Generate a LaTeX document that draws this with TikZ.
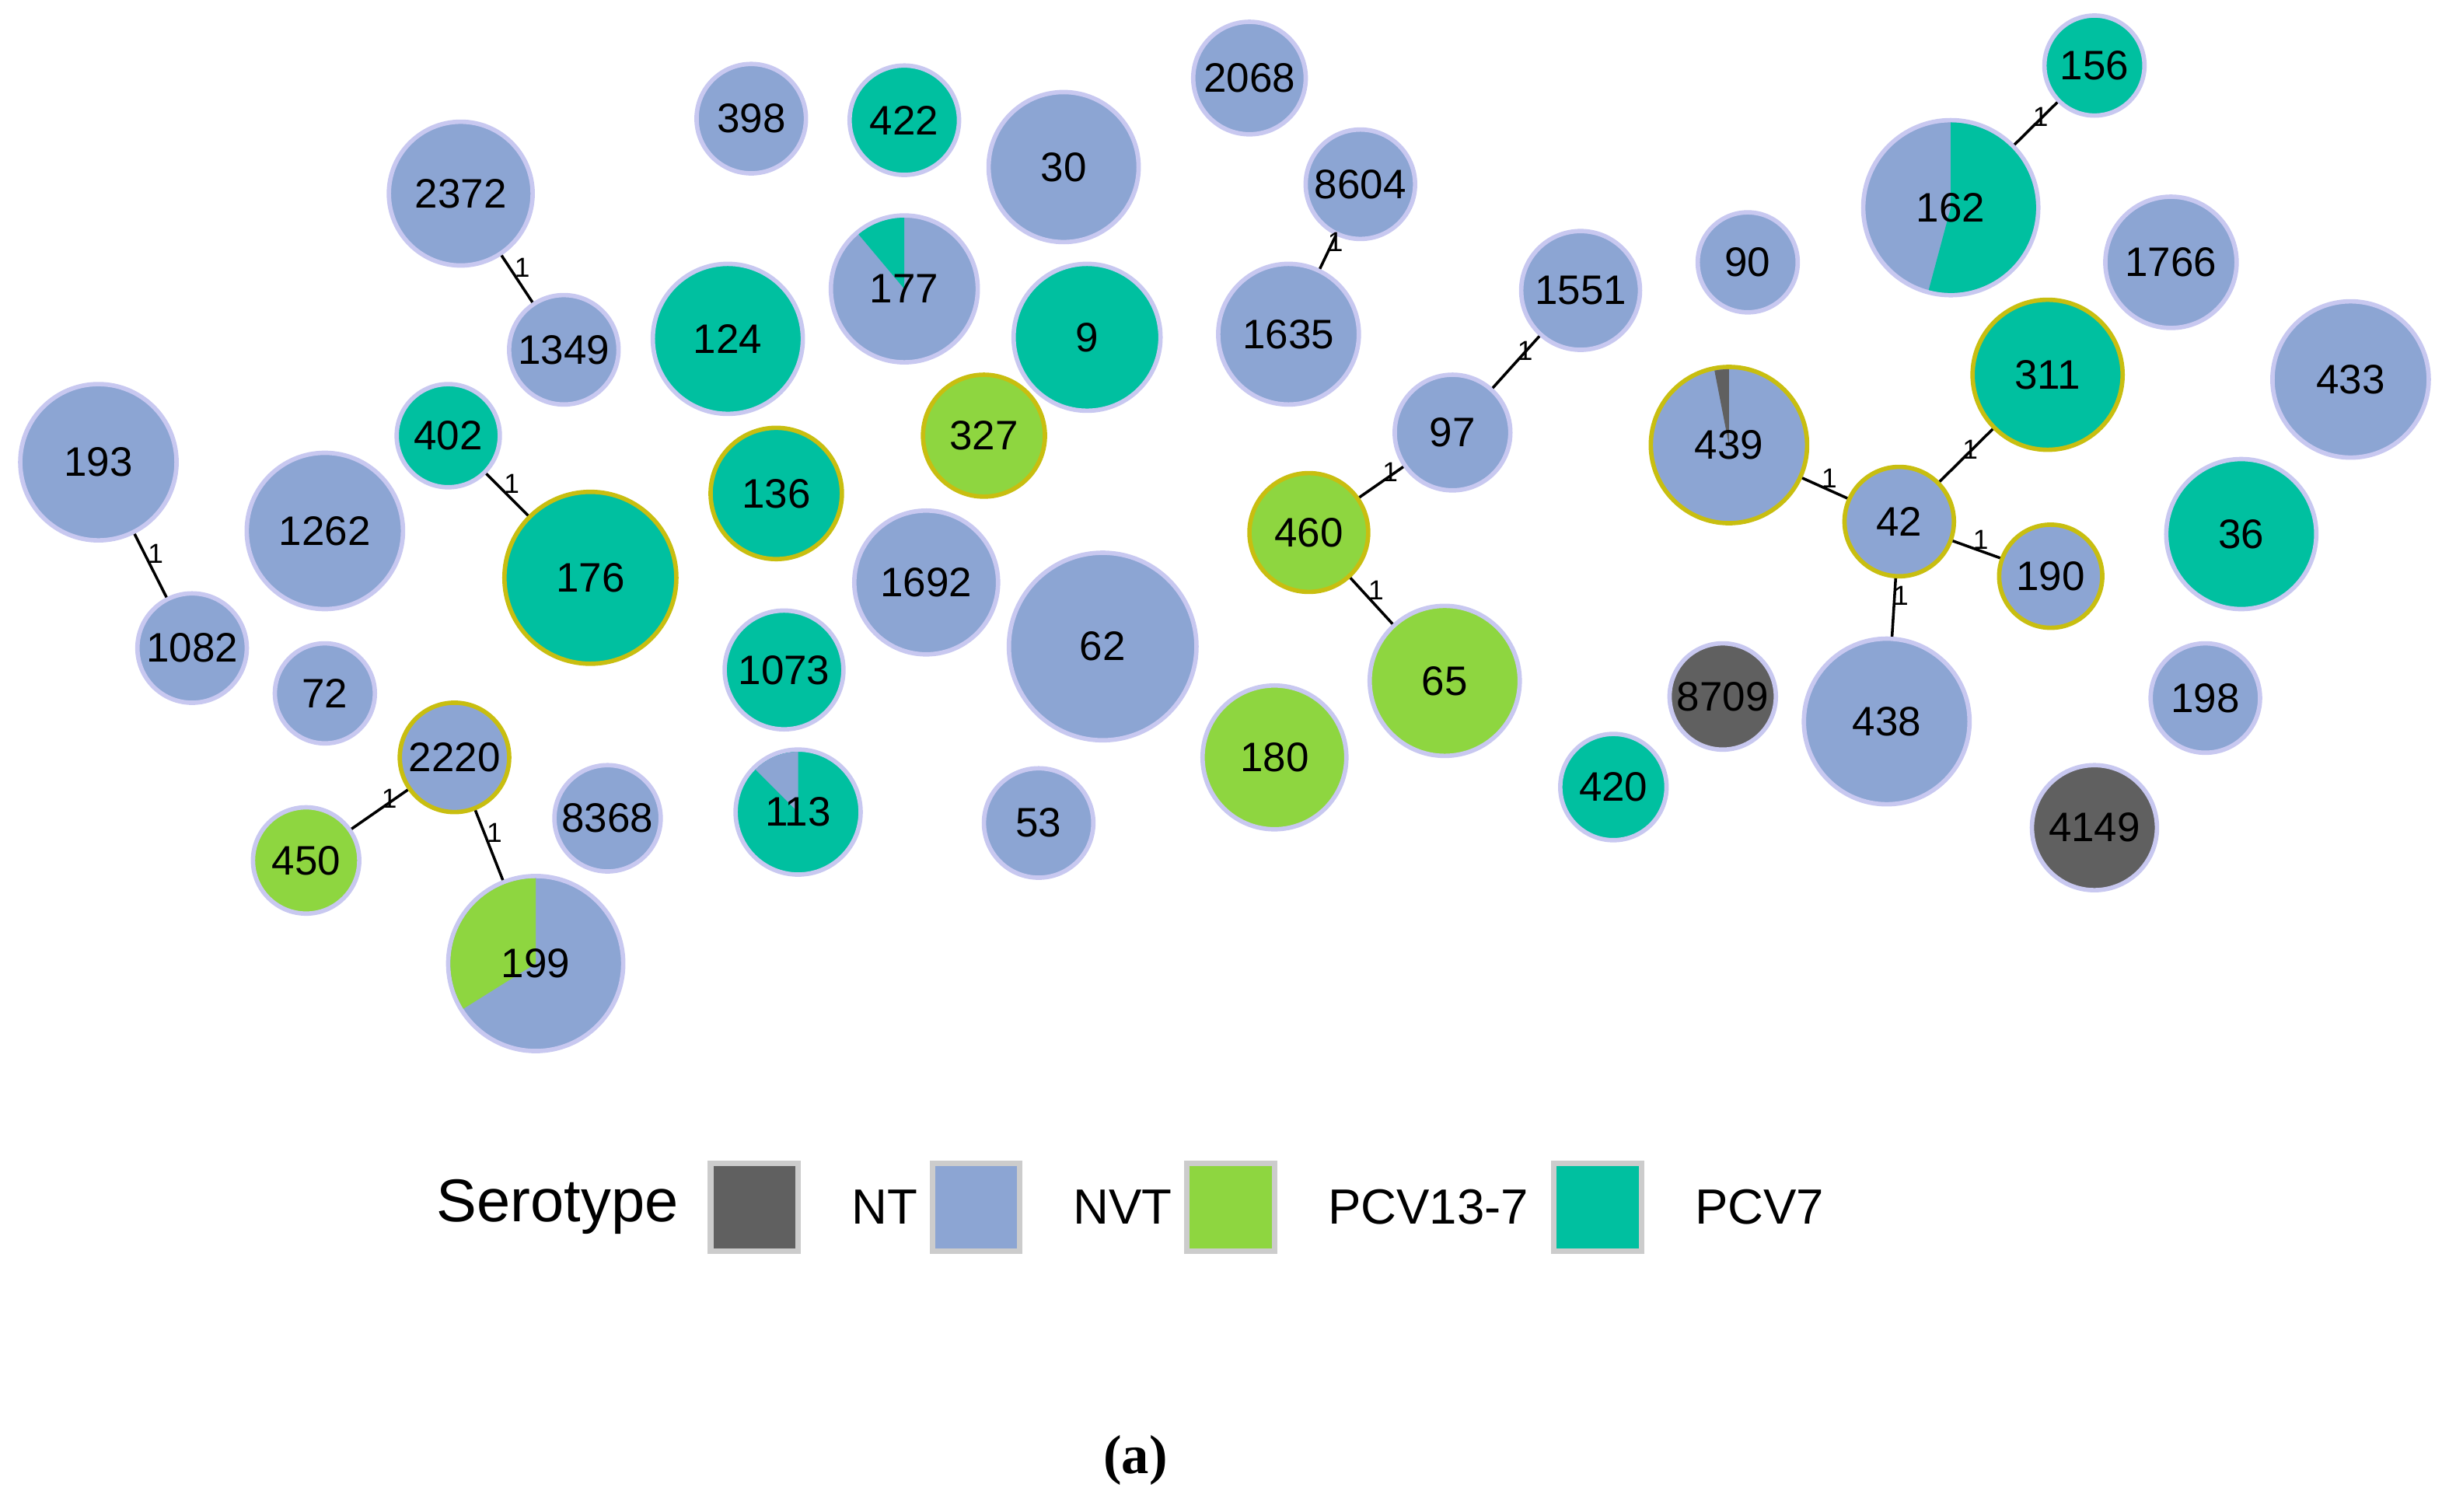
\documentclass[tikz,border=0pt]{standalone}
\usepackage{fontspec}
\setmainfont{Liberation Sans}
\newfontfamily\capfont{Liberation Serif}
\usetikzlibrary{positioning}
\definecolor{nvtc}{HTML}{8CA5D3}
\definecolor{pcvsevc}{HTML}{00C0A0}
\definecolor{pcvthc}{HTML}{8ED640}
\definecolor{ntc}{HTML}{606060}
\definecolor{rimc}{HTML}{C8C8F0}
\definecolor{yrimc}{HTML}{C8BE10}
\begin{document}
\begin{tikzpicture}[x=0.01cm,y=-0.01cm,
st/.style={circle,inner sep=0pt,line width=0.8pt,draw=rimc,font=\fontsize{7.5}{8}\selectfont},
nvt/.style={st,fill=nvtc},
pcvsev/.style={st,fill=pcvsevc},
pcvth/.style={st,fill=pcvthc},
nt/.style={st,fill=ntc},
nvty/.style={nvt,draw=yrimc},
pcvsevy/.style={pcvsev,draw=yrimc},
pcvthy/.style={pcvth,draw=yrimc},
link/.style={line width=0.5pt},
dist/.style={font=\fontsize{5}{5}\selectfont,inner sep=1pt},
legbox/.style={minimum size=0.56cm,inner sep=0pt,draw=gray!40,line width=1pt}
]
\useasboundingbox (0,0) rectangle (1568,968);
% plain nodes
\foreach \n/\x/\y/\r/\s in {193/63/296/50/nvt,1082/123/415/35/nvt,2372/295/124/46/nvt,
1349/361/224/35/nvt,402/287/279/33/pcvsev,176/378/370/55/pcvsevy,1262/208/340/50/nvt,
72/208/444/32/nvt,2220/291/485/35/nvty,450/196/551/34/pcvth,8368/389/524/34/nvt,
398/481/76/35/nvt,422/579/77/35/pcvsev,124/466/217/48/pcvsev,136/497/316/42/pcvsevy,
1073/502/429/38/pcvsev,30/681/107/48/nvt,9/696/216/47/pcvsev,327/630/279/39/pcvthy,
1692/593/373/46/nvt,62/706/414/60/nvt,53/665/527/35/nvt,2068/800/50/36/nvt,
8604/871/118/35/nvt,1635/825/214/45/nvt,180/816/485/46/pcvth,1551/1012/186/38/nvt,
97/930/277/37/nvt,460/838/341/38/pcvthy,65/925/436/48/pcvth,420/1033/504/34/pcvsev,
8709/1103/446/34/nt,90/1119/168/32/nvt,42/1216/334/35/nvty,438/1208/462/53/nvt,
190/1313/369/33/nvty,156/1341/42/32/pcvsev,311/1311/240/48/pcvsevy,
1766/1390/168/42/nvt,433/1505/243/50/nvt,36/1435/342/48/pcvsev,198/1412/447/35/nvt,
4149/1341/530/40/nt}
  \node[\s,minimum size=\r*0.02cm] (n\n) at (\x,\y) {\n};
% pie nodes
\foreach \n/\x/\y/\r/\s/\c/\a/\b in {199/343/617/56/nvt/pcvthc/90/212,
177/579/185/47/nvt/pcvsevc/90/130,113/511/520/40/pcvsev/nvtc/90/135,
439/1107/285/50/nvty/ntc/90/101,162/1249/133/56/nvt/pcvsevc/-105/90}{
  \node[\s,minimum size=\r*0.02cm] (n\n) at (\x,\y) {};
  \fill[\c] (n\n.center) -- ++(\a:\r*0.01cm-0.4pt) arc[start angle=\a,end angle=\b,radius=\r*0.01cm-0.4pt] -- cycle;
  \node[font=\fontsize{7.5}{8}\selectfont] at (n\n) {\n};
}
% links
\foreach \p/\q in {2372/1349,193/1082,402/176,2220/450,2220/199,8604/1635,1551/97,
97/460,460/65,439/42,42/311,42/190,42/438,162/156}
  \draw[link] (n\p) -- node[dist,pos=0.45,above right=-2pt] {1} (n\q);
% legend
\node[font=\fontsize{11}{12}\selectfont] (ser) at (357,773) {Serotype};
\node[legbox,fill=ntc] (lnt) at (483,773) {};
\node[right=0.2cm of lnt,font=\fontsize{9}{10}\selectfont] {NT};
\node[legbox,fill=nvtc] (lnvt) at (625,773) {};
\node[right=0.2cm of lnvt,font=\fontsize{9}{10}\selectfont] {NVT};
\node[legbox,fill=pcvthc] (lpth) at (788,773) {};
\node[right=0.2cm of lpth,font=\fontsize{9}{10}\selectfont] {PCV13-7};
\node[legbox,fill=pcvsevc] (lpsev) at (1023,773) {};
\node[right=0.2cm of lpsev,font=\fontsize{9}{10}\selectfont] {PCV7};
\node[font=\capfont\bfseries\fontsize{10}{12}\selectfont] (cap) at (727,935) {(a)};
\end{tikzpicture}
\end{document}
